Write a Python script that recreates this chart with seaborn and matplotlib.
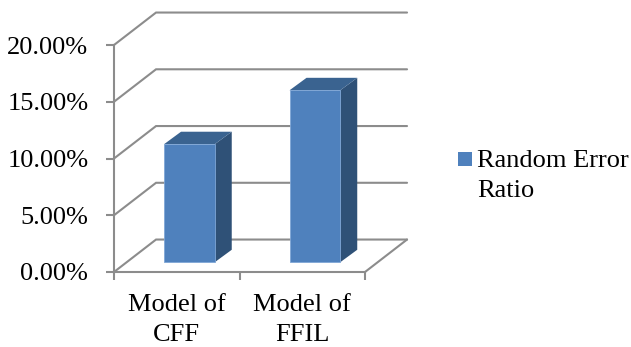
import matplotlib
matplotlib.use("Agg")
import matplotlib.pyplot as plt
from matplotlib.patches import Polygon, Rectangle
import pandas as pd
import seaborn as sns

categories = ["Model of\nCFF", "Model of\nFFIL"]
error_ratio = [10.4, 15.15]
series_name = "Random Error\nRatio"
y_ticks = [0, 5, 10, 15, 20]
y_tick_labels = ["0.00%", "5.00%", "10.00%", "15.00%", "20.00%"]

GRID = "#8c8c8c"
FRONT = "#4f81bd"
SIDE = "#2f5177"
TOP = "#3a6390"
SERIF = "Liberation Serif"
FONT_SIZE = 19
LINE = 1.5

# Oblique depth of the box, in data units
DEPTH_X = 0.335
DEPTH_Y = 2.86

sns.set_theme(style="white")
plt.rcParams["font.family"] = [SERIF, "DejaVu Serif"]

W, H = 631, 347
fig = plt.figure(figsize=(W / 100, H / 100), dpi=100, facecolor="white")
ax = fig.add_axes([114 / W, 1 - 272 / H, 251 / W, 227 / H])
ax.patch.set_alpha(0)

table = pd.DataFrame({"model": categories, "ratio": error_ratio})
sns.barplot(data=table, x="model", y="ratio", color=FRONT, saturation=1,
            width=0.404, ax=ax, zorder=3)
ax.set_xlim(-0.5, 1.5)
ax.set_ylim(0, 20)

# Back wall gridlines, side wall diagonals and floor
for v in y_ticks:
    ax.plot([-0.5, -0.5 + DEPTH_X, 1.5 + DEPTH_X], [v, v + DEPTH_Y, v + DEPTH_Y],
            color=GRID, lw=LINE, clip_on=False, zorder=1, solid_joinstyle="miter")
ax.plot([1.5, 1.5 + DEPTH_X], [0, DEPTH_Y], color=GRID, lw=LINE, clip_on=False, zorder=1)

# Push the bars into the box and add their side and top faces
bar_shift_x = 0.3 * DEPTH_X
bar_shift_y = 0.3 * DEPTH_Y
side_x = 0.405 * DEPTH_X
side_y = 0.385 * DEPTH_Y
for bar, value in zip(ax.patches, error_ratio):
    left = bar.get_x() + bar_shift_x
    right = left + bar.get_width()
    base = bar_shift_y
    top = base + value
    bar.set_xy((left, base))
    bar.set_clip_on(False)
    bar.set_edgecolor("#7fa6d6")
    bar.set_linewidth(0.6)
    ax.add_patch(Polygon([(right, base), (right + side_x, base + side_y),
                          (right + side_x, top + side_y), (right, top)],
                         facecolor=SIDE, edgecolor="none", zorder=2.9, clip_on=False))
    ax.add_patch(Polygon([(left, top), (right, top), (right + side_x, top + side_y),
                          (left + side_x, top + side_y)],
                         facecolor=TOP, edgecolor="none", zorder=2.9, clip_on=False))

sns.despine(ax=ax, top=True, right=True)
for name in ("left", "bottom"):
    ax.spines[name].set_color(GRID)
    ax.spines[name].set_linewidth(LINE)
    ax.spines[name].set_zorder(2)

ax.set_xlabel("")
ax.set_ylabel("")
ax.set_yticks(y_ticks)
ax.set_yticklabels(y_tick_labels, fontsize=FONT_SIZE, color="black")
ax.tick_params(axis="y", which="major", left=True, length=5.5, width=LINE, color=GRID, pad=13)

# Ticks sit on category boundaries, labels between them
ax.set_xticks([-0.5, 0.5, 1.5])
ax.set_xticklabels(["", "", ""])
ax.set_xticks([0, 1], minor=True)
ax.set_xticklabels(categories, minor=True, fontsize=FONT_SIZE, color="black", linespacing=1.46)
ax.tick_params(axis="x", which="major", bottom=True, length=5.5, width=LINE, color=GRID)
ax.tick_params(axis="x", which="minor", bottom=False, length=0, pad=16)

# Legend swatch and wrapped series name
fig.add_artist(Rectangle((458 / W, 1 - 166 / H), 14 / W, 14 / H, transform=fig.transFigure,
                         facecolor=FRONT, edgecolor="none"))
fig.text(477 / W, 1 - 150 / H, series_name, fontsize=FONT_SIZE, color="black",
         va="top", ha="left", linespacing=1.46)

fig.savefig("out.png", dpi=100, facecolor="white")
